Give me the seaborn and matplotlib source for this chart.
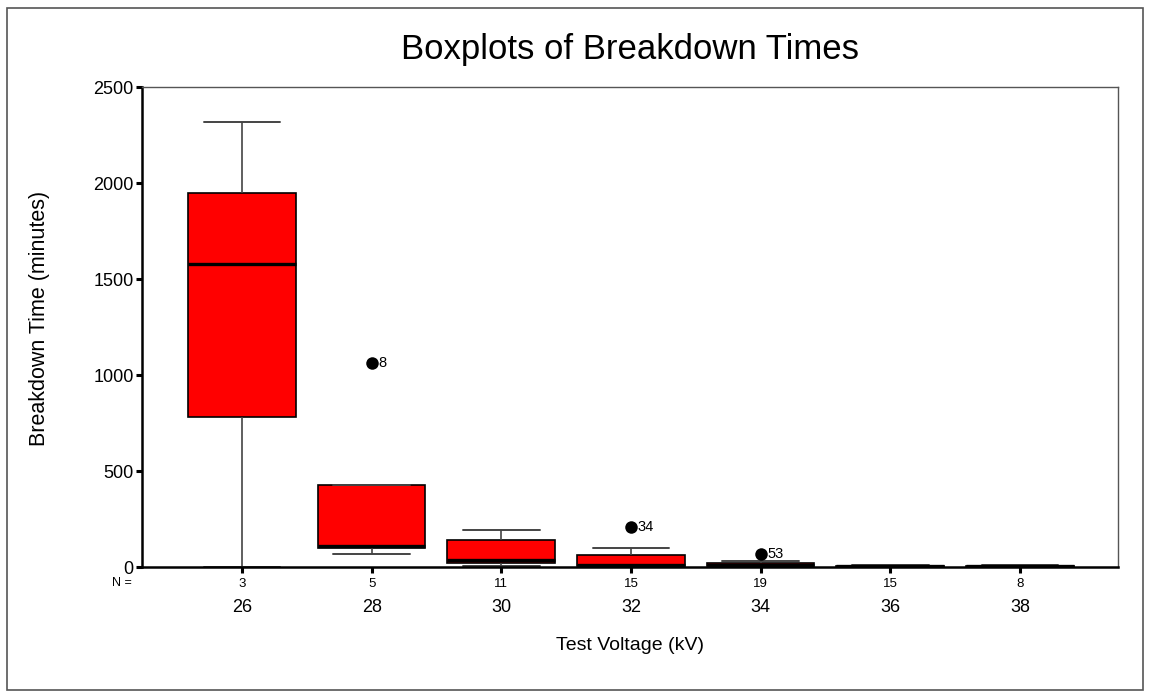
import numpy as np
import pandas as pd
import matplotlib
matplotlib.use("Agg")
import matplotlib.pyplot as plt
from matplotlib.patches import Rectangle
import seaborn as sns

# ---- data ----
voltages = ["26", "28", "30", "32", "34", "36", "38"]
n_counts = [3, 5, 11, 15, 19, 15, 8]
whisker_low = [0, 69, 7, 2, 1, 1, 1]
q1 = [783, 100, 22, 5, 3, 2, 2]
median = [1577, 108, 36, 10, 10, 4, 3]
q3 = [1950, 427, 139, 64, 19, 7, 6]
whisker_high = [2320, 427, 194, 101, 31, 9, 8]
outlier_voltage = ["28", "32", "34"]
outlier_time = [1061, 210, 68]
outlier_case = ["8", "34", "53"]
y_ticks = [0, 500, 1000, 1500, 2000, 2500]

# five-number summaries -> long table (percentiles reproduce them exactly)
rows = []
for v, a, b, c, d, e in zip(voltages, whisker_low, q1, median, q3, whisker_high):
    for val in (a, b, c, d, e):
        rows.append({"voltage": v, "time": val})
df = pd.DataFrame(rows)

sns.set_theme(style="white")
plt.rcParams["font.family"] = ["Liberation Sans", "DejaVu Sans"]
plt.rcParams["text.color"] = "black"
plt.rcParams["axes.labelcolor"] = "black"
plt.rcParams["xtick.color"] = "black"
plt.rcParams["ytick.color"] = "black"

W, H = 1151, 698
fig = plt.figure(figsize=(W / 100, H / 100), dpi=100)
ax = fig.add_axes([142 / W, 1 - 567 / H, (1118 - 142) / W, (567 - 87) / H])

sns.boxplot(
    data=df, x="voltage", y="time", order=voltages, ax=ax,
    whis=(0, 100), width=0.83, color="#FF0000", saturation=1,
    linecolor="black", linewidth=1.0, showfliers=False,
    boxprops=dict(edgecolor="black", linewidth=1.2),
    medianprops=dict(color="black", linewidth=2.4),
    whiskerprops=dict(color="#444444", linewidth=1.2),
    capprops=dict(color="#444444", linewidth=1.4),
    capwidths=0.59,
)

sns.stripplot(
    x=outlier_voltage, y=outlier_time, order=voltages, ax=ax,
    jitter=False, color="black", size=9, linewidth=0,
)
for v, t, lab in zip(outlier_voltage, outlier_time, outlier_case):
    ax.annotate(lab, xy=(voltages.index(v), t), xytext=(5, 0),
                textcoords="offset points", va="center", ha="left",
                fontsize=10.5, color="black")

ax.set_xlim(-0.771, 6.756)
ax.set_ylim(0, 2500)
ax.set_yticks(y_ticks)
ax.set_yticklabels([str(t) for t in y_ticks], fontsize=13)
ax.set_xticks(range(len(voltages)))
ax.set_xticklabels([str(n) for n in n_counts], fontsize=9.5)
ax.tick_params(axis="x", bottom=True, direction="out", length=4, width=2.2,
               pad=4, color="black", labelcolor="black")
ax.tick_params(axis="y", left=True, direction="out", length=4, width=2.2,
               pad=2, color="black", labelcolor="black")
ax.set_xlabel("")
ax.set_ylabel("")

for side in ("left", "bottom"):
    ax.spines[side].set_color("black")
    ax.spines[side].set_linewidth(1.8)
for side in ("top", "right"):
    ax.spines[side].set_color("#555555")
    ax.spines[side].set_linewidth(1.0)

# voltage labels beneath the N row
for i, v in enumerate(voltages):
    ax.annotate(v, xy=(i, 0), xycoords=("data", "axes fraction"),
                xytext=(0, -40 * 0.72), textcoords="offset points",
                ha="center", va="center", fontsize=13)

fig.text(122 / W, 1 - 583 / H, "N =", ha="center", va="center", fontsize=9)
fig.text(630 / W, 1 - 50 / H, "Boxplots of Breakdown Times",
         ha="center", va="center", fontsize=25)
fig.text(40 / W, 1 - 318 / H, "Breakdown Time (minutes)", rotation=90,
         ha="center", va="center", fontsize=15.5)
fig.text(630 / W, 1 - 645 / H, "Test Voltage (kV)",
         ha="center", va="center", fontsize=14)

fig.patches.append(Rectangle((7 / W, 8 / H), (1143 - 7) / W, (690 - 8) / H,
                             transform=fig.transFigure, fill=False,
                             edgecolor="#555555", linewidth=1.2))

fig.savefig("out.png", dpi=100)
